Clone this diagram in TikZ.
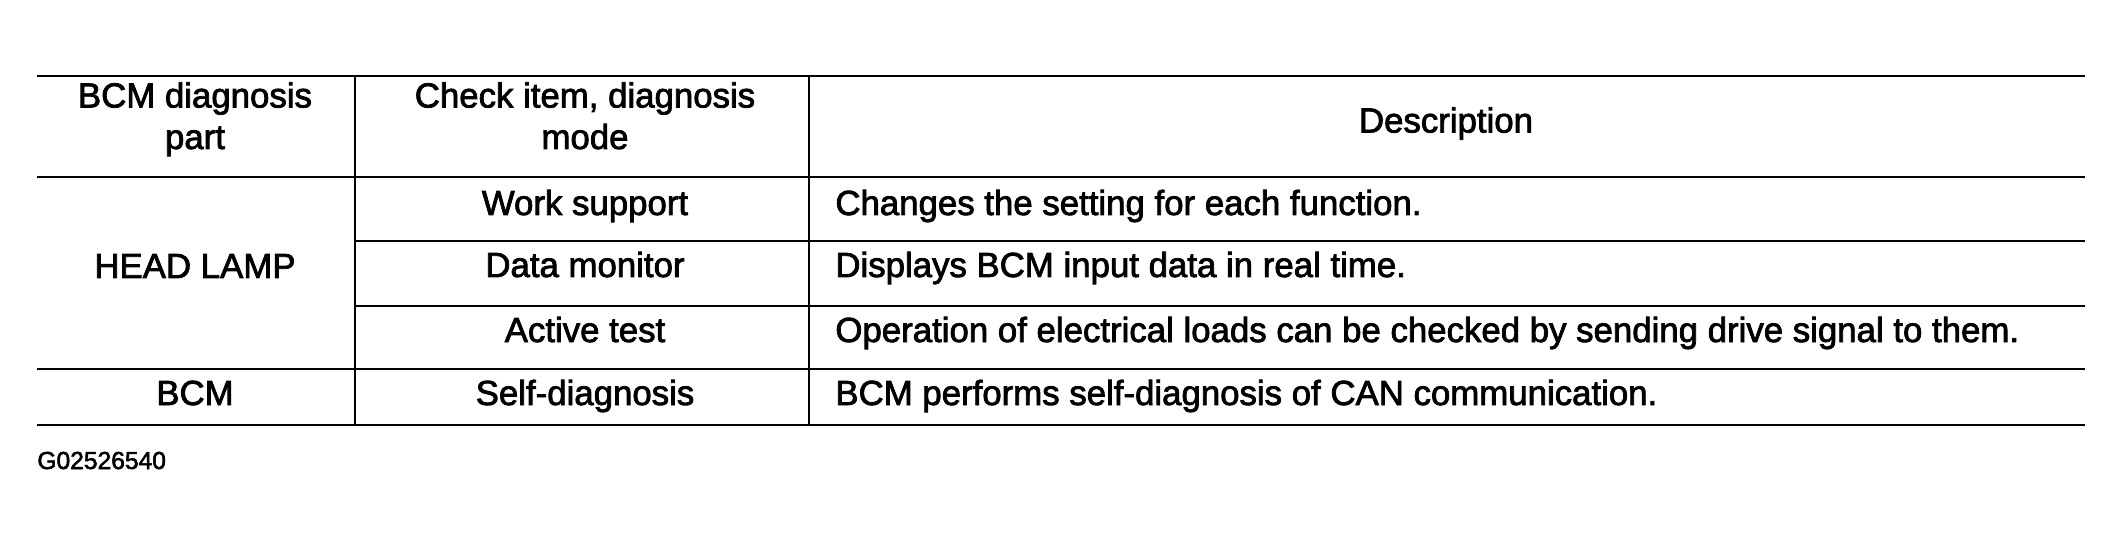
\documentclass[tikz,border=0pt]{standalone}
\usepackage{fontspec}
\setmainfont{Liberation Sans}
\newfontfamily\scanfont{Liberation Sans}[FakeBold=2.2]
\usetikzlibrary{positioning}
\tikzset{cell/.style = {anchor = base, inner sep = 0pt, font = \fontsize{17.4}{21}\scanfont},
  desc/.style = {cell, anchor = base west},
  heavy/.style = {line width = 1.4pt},
  rule/.style = {line width = 1pt},
  colrule/.style = {line width = 1pt}}

\begin{document}
\begin{tikzpicture}[x = 0.5pt, y = -0.5pt]
    \useasboundingbox (0,0) rectangle (2124,545);
    % rules
    \draw [heavy] (37,76) -- (2085,76);
    \draw [heavy] (37,177) -- (2085,177);
    \draw [rule] (355,241) -- (2085,241);
    \draw [rule] (355,306) -- (2085,306);
    \draw [heavy, line width = 1.2pt] (37,369) -- (2085,369);
    \draw [heavy] (37,425) -- (2085,425);
    \draw [colrule] (355,76) -- (355,425);
    \draw [colrule] (809,76) -- (809,425);
    % header
    \node [cell] (part1) at (195,107.5) {BCM diagnosis};
    \node [cell] (part2) at (195,149) {part};
    \node [cell] (mode1) at (585,107.5) {Check item, diagnosis};
    \node [cell] (mode2) at (585,149) {mode};
    \node [cell] (desc0) at (1446,132.5) {Description};
    % rows
    \node [cell] (lamp) at (195,278) {HEAD LAMP};
    \node [cell] (work) at (585,215) {Work support};
    \node [cell] (data) at (585,277) {Data monitor};
    \node [cell] (active) at (585,342) {Active test};
    \node [cell] (bcm) at (195,405) {BCM};
    \node [cell] (self) at (585,405) {Self-diagnosis};
    \node [desc] (desc1) at (835,215) {Changes the setting for each function.};
    \node [desc] (desc2) at (835,277) {Displays BCM input data in real time.};
    \node [desc] (desc3) at (835,342) {Operation of electrical loads can be checked by sending drive signal to them.};
    \node [desc] (desc4) at (835,405) {BCM performs self-diagnosis of CAN communication.};
    % figure code
    \node [anchor = base west, inner sep = 0pt, font = \fontsize{12.3}{14}\scanfont] (code) at (37,469) {G02526540};
  \end{tikzpicture}
\end{document}
